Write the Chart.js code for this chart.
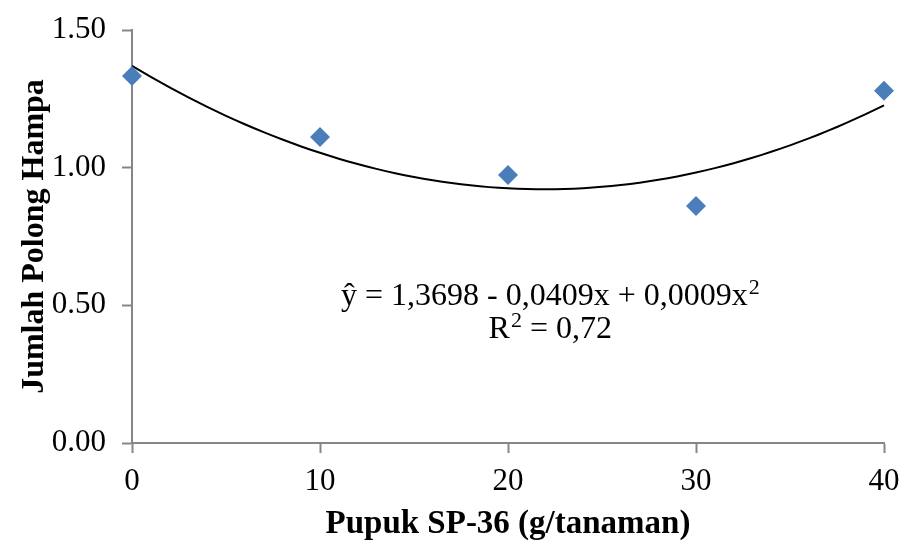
<!DOCTYPE html>
<html>
<head>
<meta charset="utf-8">
<script src="https://cdn.jsdelivr.net/npm/chart.js@4.4.1/dist/chart.umd.min.js"></script>
<style>
    html, body { margin: 0; padding: 0; background: #ffffff; }
    #wrap { width: 905px; height: 541px; }
</style>
</head>
<body>
<div id="wrap"><canvas id="chart-polong" width="905" height="541"></canvas></div>
<script>
// Dosis pupuk SP-36 dan rata-rata polong hampa
const doses = [0, 10, 20, 30, 40];
const polongHampa = [1.333, 1.111, 0.973, 0.861, 1.279];
const yTicks = [0, 0.5, 1.0, 1.5];
// each line: [normal text, superscript, normal text after]
const eqLines = [
    ['ŷ = 1,3698 - 0,0409x + 0,0009x', '2', ''],
    ['R', '2', ' = 0,72']
];

const axisGray = '#868686';
const serif = "'Liberation Serif', 'Times New Roman', serif";

// Quadratic least-squares trendline built from the observed points
function fitQuadratic(xs, ys) {
    let s = [0, 0, 0, 0, 0], t = [0, 0, 0];
    xs.forEach((x, i) => {
        for (let k = 0; k < 5; k++) s[k] += Math.pow(x, k);
        for (let k = 0; k < 3; k++) t[k] += Math.pow(x, k) * ys[i];
    });
    const m = [[s[0], s[1], s[2], t[0]], [s[1], s[2], s[3], t[1]], [s[2], s[3], s[4], t[2]]];
    for (let c = 0; c < 3; c++) {
        for (let r = c + 1; r < 3; r++) {
            const f = m[r][c] / m[c][c];
            for (let k = c; k < 4; k++) m[r][k] -= f * m[c][k];
        }
    }
    const coef = [0, 0, 0];
    for (let r = 2; r >= 0; r--) {
        let v = m[r][3];
        for (let k = r + 1; k < 3; k++) v -= m[r][k] * coef[k];
        coef[r] = v / m[r][r];
    }
    return coef;
}

const coef = fitQuadratic(doses, polongHampa);
const trend = [];
for (let x = doses[0]; x <= doses[doses.length - 1]; x += 0.5) {
    trend.push({ x: x, y: coef[0] + coef[1] * x + coef[2] * x * x });
}

// Equation and R² text drawn over the plot area, with a raised small "2"
const equationLabel = {
    id: 'equationLabel',
    afterDatasetsDraw(chart) {
        const ctx = chart.ctx;
        const xs = chart.scales.x, ys = chart.scales.y;
        const cx = xs.getPixelForValue(22.25);
        const size = 32, supSize = 22;
        const mainFont = size + 'px ' + serif;
        const supFont = supSize + 'px ' + serif;
        const rows = [0.54, 0.42];
        ctx.save();
        ctx.fillStyle = '#000000';
        ctx.textAlign = 'left';
        ctx.textBaseline = 'alphabetic';
        eqLines.forEach((parts, i) => {
            ctx.font = mainFont;
            const w0 = ctx.measureText(parts[0]).width;
            const w2 = ctx.measureText(parts[2]).width;
            ctx.font = supFont;
            const w1 = ctx.measureText(parts[1]).width + 1;
            let x = cx - (w0 + w1 + w2) / 2;
            const base = ys.getPixelForValue(rows[i]) + size * 0.33;
            ctx.font = mainFont;
            ctx.fillText(parts[0], x, base);
            x += w0;
            ctx.font = supFont;
            ctx.fillText(parts[1], x + 1, base - size * 0.34);
            x += w1;
            ctx.font = mainFont;
            ctx.fillText(parts[2], x, base);
        });
        ctx.restore();
    }
};

const ctx = document.getElementById('chart-polong').getContext('2d');
new Chart(ctx, {
    type: 'scatter',
    data: {
        datasets: [
            {
                label: 'Jumlah Polong Hampa',
                data: doses.map((d, i) => ({ x: d, y: polongHampa[i] })),
                pointStyle: 'rectRot',
                pointRadius: 10,
                pointBackgroundColor: '#4a7ebb',
                pointBorderColor: '#4a7ebb',
                pointBorderWidth: 0,
                clip: false,
                order: 1
            },
            {
                label: 'Poly.',
                data: trend,
                showLine: true,
                borderColor: '#000000',
                borderWidth: 2,
                pointRadius: 0,
                tension: 0,
                clip: false,
                order: 2
            }
        ]
    },
    options: {
        responsive: false,
        animation: false,
        layout: { padding: { top: 30, right: 21, bottom: 0, left: 0 } },
        plugins: {
            legend: { display: false },
            tooltip: { enabled: false }
        },
        scales: {
            x: {
                type: 'linear',
                min: 0,
                max: 40,
                afterFit: function(scale) {
                    scale.height = 98;
                    scale.paddingLeft = 0;
                    scale.paddingRight = 0;
                },
                border: { display: true, color: axisGray, width: 2 },
                grid: { drawOnChartArea: false, drawTicks: true, tickLength: 10, tickColor: axisGray, tickWidth: 2 },
                ticks: {
                    stepSize: 10,
                    padding: 10,
                    color: '#000000',
                    font: { family: serif, size: 31 }
                },
                title: {
                    display: true,
                    text: 'Pupuk SP-36 (g/tanaman)',
                    color: '#000000',
                    font: { family: serif, size: 33, weight: 'bold', lineHeight: 1 },
                    padding: { top: 0, bottom: 0 }
                }
            },
            y: {
                min: 0,
                max: 1.5,
                afterFit: function(scale) {
                    scale.width = 132;
                    scale.paddingTop = 0;
                    scale.paddingBottom = 0;
                },
                afterBuildTicks: function(scale) { scale.ticks = yTicks.map(v => ({ value: v })); },
                border: { display: true, color: axisGray, width: 2 },
                grid: { drawOnChartArea: false, drawTicks: true, tickLength: 10, tickColor: axisGray, tickWidth: 2 },
                ticks: {
                    padding: 16,
                    color: '#000000',
                    font: { family: serif, size: 31 },
                    callback: function(value) { return value.toFixed(2); }
                },
                title: {
                    display: true,
                    text: 'Jumlah Polong Hampa',
                    color: '#000000',
                    font: { family: serif, size: 32, weight: 'bold', lineHeight: 1 },
                    padding: { top: 19, bottom: 0 }
                }
            }
        }
    },
    plugins: [equationLabel]
});
</script>
</body>
</html>
